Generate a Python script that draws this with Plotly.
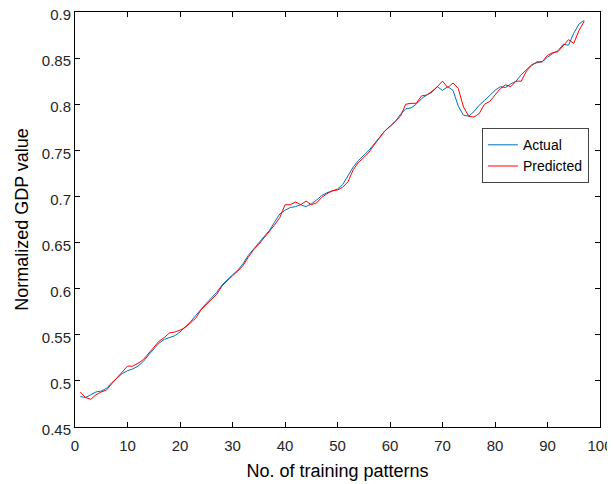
import plotly.graph_objects as go

x_idx = list(range(1, 98))

actual = [0.483, 0.482, 0.485, 0.488, 0.489, 0.492, 0.498, 0.503, 0.508, 0.511,
          0.513, 0.516, 0.521, 0.528, 0.535, 0.541, 0.545, 0.547, 0.549, 0.553,
          0.558, 0.564, 0.571, 0.578, 0.584, 0.590, 0.596, 0.604, 0.610, 0.615,
          0.620, 0.627, 0.636, 0.643, 0.649, 0.656, 0.663, 0.672, 0.681, 0.685,
          0.688, 0.689, 0.691, 0.689, 0.692, 0.696, 0.701, 0.704, 0.706, 0.708,
          0.713, 0.722, 0.732, 0.739, 0.744, 0.750, 0.757, 0.764, 0.771, 0.776,
          0.781, 0.789, 0.795, 0.796, 0.800, 0.806, 0.810, 0.813, 0.819, 0.815,
          0.819, 0.815, 0.798, 0.788, 0.787, 0.792, 0.799, 0.804, 0.810, 0.815,
          0.819, 0.818, 0.822, 0.825, 0.832, 0.838, 0.843, 0.845, 0.846, 0.851,
          0.855, 0.858, 0.865, 0.864, 0.877, 0.887, 0.891]

predicted = [0.488, 0.482, 0.480, 0.485, 0.488, 0.490, 0.497, 0.503, 0.509, 0.516,
             0.516, 0.519, 0.523, 0.530, 0.537, 0.543, 0.547, 0.552, 0.553, 0.555,
             0.558, 0.563, 0.568, 0.577, 0.583, 0.589, 0.594, 0.603, 0.609, 0.614,
             0.619, 0.625, 0.634, 0.642, 0.648, 0.655, 0.661, 0.669, 0.677, 0.691,
             0.691, 0.694, 0.691, 0.695, 0.691, 0.693, 0.699, 0.703, 0.706, 0.707,
             0.710, 0.716, 0.729, 0.737, 0.742, 0.748, 0.756, 0.763, 0.771, 0.776,
             0.782, 0.787, 0.800, 0.801, 0.801, 0.809, 0.810, 0.814, 0.819, 0.825,
             0.818, 0.823, 0.817, 0.797, 0.787, 0.786, 0.790, 0.800, 0.803, 0.810,
             0.817, 0.821, 0.819, 0.825, 0.825, 0.836, 0.842, 0.846, 0.846, 0.853,
             0.856, 0.857, 0.864, 0.870, 0.866, 0.880, 0.890]

x_ticks = [0, 10, 20, 30, 40, 50, 60, 70, 80, 90, 100]
y_ticks = [0.45, 0.5, 0.55, 0.6, 0.65, 0.7, 0.75, 0.8, 0.85, 0.9]
y_tick_text = ["0.45", "0.5", "0.55", "0.6", "0.65", "0.7", "0.75", "0.8", "0.85", "0.9"]

fig = go.Figure()
fig.add_trace(go.Scatter(x=x_idx, y=actual, mode="lines", name="Actual",
                         line=dict(color="#0072BD", width=1)))
fig.add_trace(go.Scatter(x=x_idx, y=predicted, mode="lines", name="Predicted",
                         line=dict(color="#FF0000", width=1)))

font_family = "Liberation Sans, Arial, sans-serif"
axis_common = dict(showline=True, linecolor="#000000", linewidth=1, mirror="ticks",
                   ticks="inside", ticklen=5, tickcolor="#000000", tickwidth=1,
                   showgrid=False, zeroline=False, automargin=False,
                   ticklabeloverflow="allow",
                   tickfont=dict(family=font_family, size=15, color="#262626"))

# the page body adds an 8px offset, so the figure is sized to fit the 615x484 window
fig.update_layout(
    width=607, height=476,
    margin=dict(l=67, r=15, t=4, b=57),
    paper_bgcolor="white", plot_bgcolor="white",
    font=dict(family=font_family, color="#262626"),
    xaxis=dict(range=[0, 100], tickvals=x_ticks, ticklabelstandoff=5,
               title=dict(text="No. of training patterns", font=dict(size=18, color="#000000"), standoff=11),
               **axis_common),
    yaxis=dict(range=[0.45, 0.9], tickvals=y_ticks, ticktext=y_tick_text,
               ticklabelshift=3,
               title=dict(text="Normalized GDP value", font=dict(size=18, color="#000000"), standoff=8),
               **axis_common),
    legend=dict(x=0.775, y=0.72, xanchor="left", yanchor="top",
                bgcolor="white", bordercolor="#444444", borderwidth=1,
                font=dict(family=font_family, size=14, color="#000000"),
                tracegroupgap=0, itemwidth=30),
    showlegend=True,
)

fig.write_html("out.html")
